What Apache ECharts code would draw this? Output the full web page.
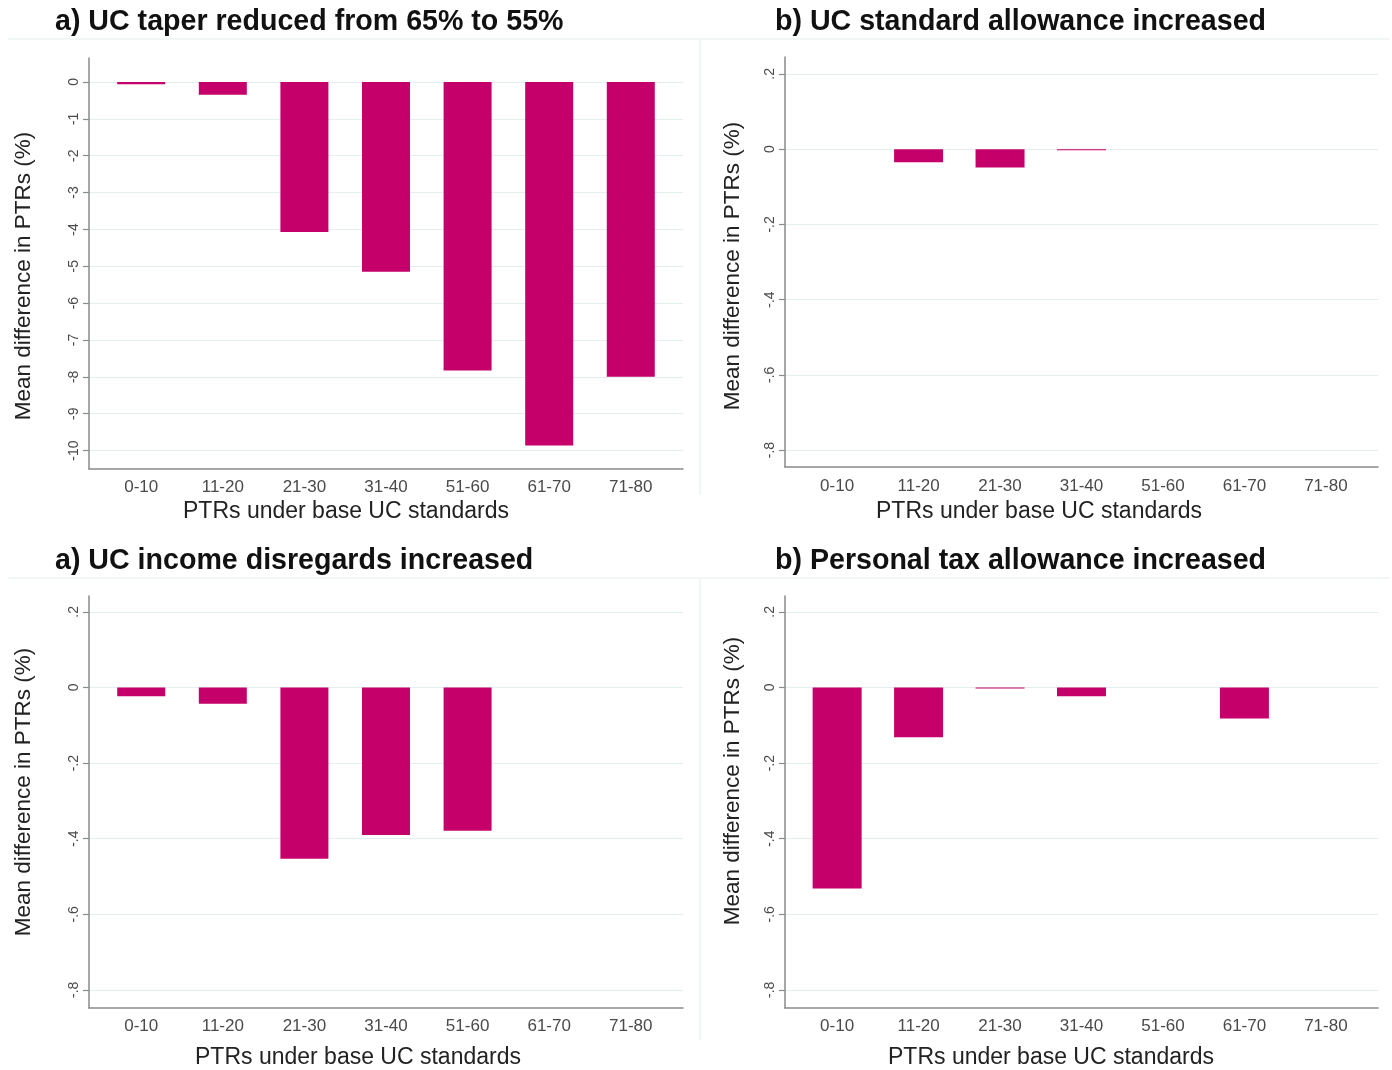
<!DOCTYPE html>
<html>
<head>
<meta charset="utf-8">
<script src="https://cdn.jsdelivr.net/npm/echarts@6/dist/echarts.min.js"></script>
<style>
  html, body { margin: 0; padding: 0; background: #ffffff; }
  #chart { width: 1392px; height: 1070px; }
</style>
</head>
<body>
<div id="chart"></div>
<script>
// PTR bands (x categories)
const categories = ['0-10', '11-20', '21-30', '31-40', '51-60', '61-70', '71-80'];

// Mean difference in PTRs for each reform, by PTR band
const taperValues = [-0.06, -0.35, -4.07, -5.15, -7.83, -9.86, -8.0];
const standardAllowanceValues = [null, -0.035, -0.049, -0.003, null, null, null];
const disregardValues = [-0.023, -0.043, -0.453, -0.390, -0.379, null, null];
const personalAllowanceValues = [-0.532, -0.132, -0.003, -0.023, null, -0.082, null];

// Y tick values
const taperTicks = [0, -1, -2, -3, -4, -5, -6, -7, -8, -9, -10];
const fractionTicks = [0.2, 0, -0.2, -0.4, -0.6, -0.8];

const panelTitles = [
  'a) UC taper reduced from 65% to 55%',
  'b) UC standard allowance increased',
  'a) UC income disregards increased',
  'b) Personal tax allowance increased'
];
const yName = 'Mean difference in PTRs (%)';
const xName = 'PTRs under base UC standards';

const BAR = '#c5006b';
const FONT = '"Liberation Sans", Arial, Helvetica, sans-serif';

function stataLabel(v) {
  if (v === 0) return '0';
  const s = Math.abs(v).toFixed(1).replace(/^0/, '');
  return (v < 0 ? '-' : '') + s;
}

const panels = [
  { grid: { left: 89, top: 58, width: 594, height: 411 }, min: -10.5, max: 0.65, ticks: taperTicks, fmt: v => String(v), data: taperValues, barWidth: 48,
    title: [55, 8], xTitle: [183, 500], yTitle: [24, 276], xMargin: 10 },
  { grid: { left: 785, top: 57, width: 593, height: 410 }, min: -0.845, max: 0.245, ticks: fractionTicks, fmt: stataLabel, data: standardAllowanceValues, barWidth: 49,
    title: [775, 8], xTitle: [876, 500], yTitle: [733, 266], xMargin: 11 },
  { grid: { left: 89, top: 596, width: 594, height: 412 }, min: -0.848, max: 0.242, ticks: fractionTicks, fmt: stataLabel, data: disregardValues, barWidth: 48,
    title: [55, 547], xTitle: [195, 1046], yTitle: [24, 792], xMargin: 10 },
  { grid: { left: 785, top: 596, width: 593, height: 412 }, min: -0.848, max: 0.242, ticks: fractionTicks, fmt: stataLabel, data: personalAllowanceValues, barWidth: 49,
    title: [775, 547], xTitle: [888, 1046], yTitle: [733, 781], xMargin: 10 }
];

const catIndex = categories.map((c, i) => i);

const option = {
  backgroundColor: '#ffffff',
  animation: false,
  title: panels.map((p, i) => ({
    text: panelTitles[i],
    left: p.title[0],
    top: p.title[1],
    padding: 0,
    textStyle: { fontFamily: FONT, fontSize: 28.6, fontWeight: 'bold', color: '#111111' }
  })),
  grid: panels.map(p => p.grid),
  xAxis: panels.map((p, i) => ({
    type: 'value',
    gridIndex: i,
    min: -0.64,
    max: 6.64,
    splitLine: { show: false },
    axisTick: { show: false },
    axisLine: { show: true, onZero: false, lineStyle: { color: '#8a8a8a', width: 1.5 } },
    axisLabel: {
      customValues: catIndex,
      formatter: v => categories[Math.round(v)],
      fontFamily: FONT, fontSize: 17, color: '#4a4a4a', margin: p.xMargin
    }
  })),
  yAxis: panels.map((p, i) => ({
    type: 'value',
    gridIndex: i,
    min: p.min,
    max: p.max,
    axisLine: { show: true, onZero: false, lineStyle: { color: '#8a8a8a', width: 1.5 } },
    axisTick: { show: true, length: 6, customValues: p.ticks, lineStyle: { color: '#8a8a8a', width: 1.2 } },
    splitLine: { show: true, lineStyle: { color: '#e5eeee', width: 1.2 } },
    axisLabel: {
      customValues: p.ticks,
      rotate: 90,
      formatter: p.fmt,
      fontFamily: FONT, fontSize: 14, color: '#4a4a4a', margin: 8
    }
  })),
  series: panels.map((p, i) => ({
    type: 'bar',
    xAxisIndex: i,
    yAxisIndex: i,
    barWidth: p.barWidth,
    itemStyle: { color: BAR },
    data: p.data.map((v, k) => [k, v])
  })),
  graphic: [
    // faint panel frames
    { type: 'line', shape: { x1: 8, y1: 39, x2: 1390, y2: 39 }, style: { stroke: '#eef3f3', lineWidth: 1.5 } },
    { type: 'line', shape: { x1: 8, y1: 578, x2: 1390, y2: 578 }, style: { stroke: '#eef3f3', lineWidth: 1.5 } },
    { type: 'line', shape: { x1: 700, y1: 39, x2: 700, y2: 495 }, style: { stroke: '#eef3f3', lineWidth: 1.5 } },
    { type: 'line', shape: { x1: 700, y1: 578, x2: 700, y2: 1040 }, style: { stroke: '#eef3f3', lineWidth: 1.5 } }
  ].concat(panels.map(p => ({
    // x-axis title
    type: 'text', left: p.xTitle[0], top: p.xTitle[1],
    style: { text: xName, fontFamily: FONT, fontSize: 23, fill: '#222222' }
  }))).concat(panels.map(p => ({
    // y-axis title, rotated to read upwards
    type: 'text', x: p.yTitle[0], y: p.yTitle[1], rotation: Math.PI / 2,
    style: { text: yName, fontFamily: FONT, fontSize: 22.5, fill: '#222222', align: 'center', verticalAlign: 'middle' }
  })))
};

const chart = echarts.init(document.getElementById('chart'), null, { renderer: 'canvas' });
chart.setOption(option);
</script>
</body>
</html>
